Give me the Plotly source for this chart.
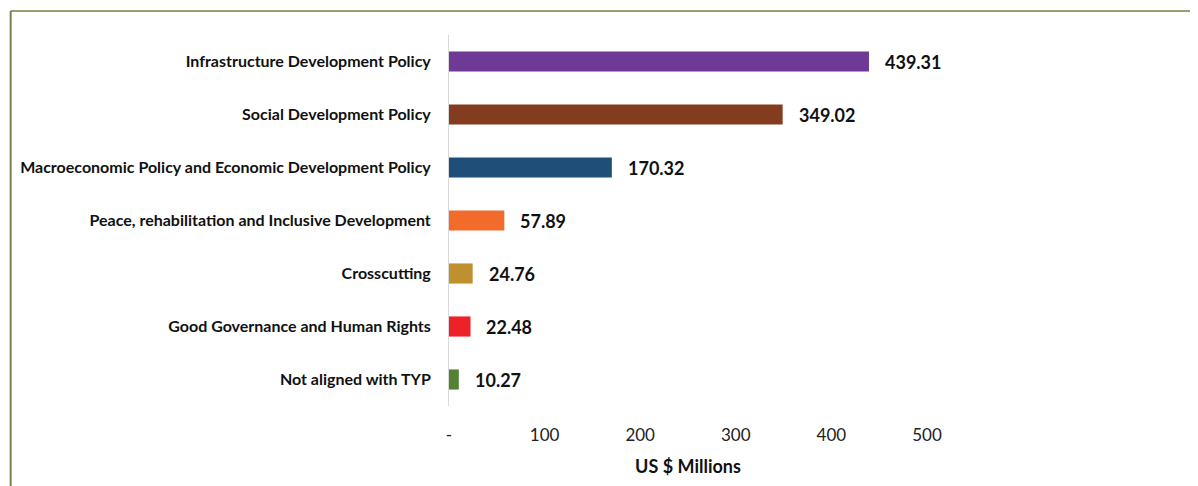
import plotly.graph_objects as go

categories = [
    "Infrastructure Development Policy",
    "Social Development Policy",
    "Macroeconomic Policy and Economic Development Policy",
    "Peace, rehabilitation and Inclusive Development",
    "Crosscutting",
    "Good Governance and Human Rights",
    "Not aligned with TYP",
]
values = [439.31, 349.02, 170.32, 57.89, 24.76, 22.48, 10.27]
colors = ["#6f3996", "#843c1f", "#1f4e79", "#f26b2a", "#bf902f", "#ee2028", "#548235"]
tick_vals = [0, 100, 200, 300, 400, 500]
tick_text = ["-", "100", "200", "300", "400", "500"]

OFF = 8  # page body margin
W, H = 1198, 486
ML, MT = 445 - OFF, 35 - OFF
pw, ph = 482, 371
MR = W - ML - pw
MB = H - MT - ph

fig = go.Figure()
fig.add_trace(go.Bar(
    y=categories, x=values, orientation="h",
    marker=dict(color=colors, line=dict(width=0)),
    width=0.38, hoverinfo="x+y",
))

for c, v in zip(categories, values):
    fig.add_annotation(x=v, y=c, text=f"<b>{v:.2f}</b>", showarrow=False,
                       xanchor="left", xshift=14,
                       font=dict(family="Lato", size=18, color="#111111"))

def px_x(X):
    return (X - OFF - ML) / pw

def px_y(Y):
    return 1 + (MT - (Y - OFF)) / ph

fig.add_shape(type="line", xref="paper", yref="paper",
              x0=px_x(3), x1=px_x(1230), y0=px_y(11), y1=px_y(11),
              line=dict(color="#959f72", width=2))
fig.add_shape(type="line", xref="paper", yref="paper",
              x0=px_x(3), x1=px_x(3), y0=px_y(11), y1=px_y(520),
              line=dict(color="#76844a", width=2))

fig.update_layout(
    width=W, height=H,
    margin=dict(l=ML, r=MR, t=MT, b=MB),
    plot_bgcolor="white", paper_bgcolor="white",
    showlegend=False,
    xaxis=dict(range=[0, 500], tickvals=tick_vals, ticktext=tick_text,
               showgrid=False, zeroline=False, showline=False, ticks="",
               ticklabelstandoff=17,
               tickfont=dict(family="Lato", size=17, color="#222222"),
               title=dict(text="<b>US $ Millions</b>", standoff=16,
                          font=dict(family="Lato", size=18, color="#111111"))),
    yaxis=dict(categoryorder="array", categoryarray=categories[::-1],
               showgrid=False, zeroline=False, showline=True,
               linecolor="#d9d9d9", linewidth=1, ticks="",
               ticklabelstandoff=14,
               tickfont=dict(family="Lato", size=16, color="#111111")),
    font=dict(family="Lato"),
)
fig.update_yaxes(tickvals=categories, ticktext=[f"<b>{c}</b>" for c in categories])

fig.write_html("out.html")
